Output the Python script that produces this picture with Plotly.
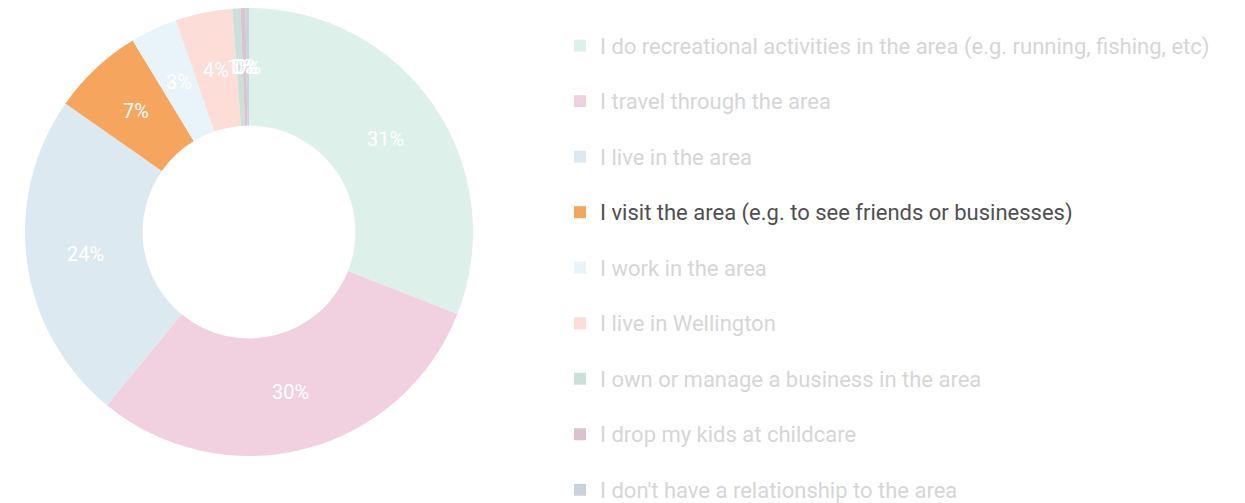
import math
import plotly.graph_objects as go

# ---- data ----
labels = [
    "I do recreational activities in the area (e.g. running, fishing, etc)",
    "I travel through the area",
    "I live in the area",
    "I visit the area (e.g. to see friends or businesses)",
    "I work in the area",
    "I live in Wellington",
    "I own or manage a business in the area",
    "I drop my kids at childcare",
    "I don't have a relationship to the area",
]
values = [31.0, 30.0, 23.8, 6.6, 3.4, 4.1, 0.6, 0.35, 0.25]
colors = ["#DDF1EA", "#F1D1E0", "#DDE9F0", "#F6A55E", "#E8F4F9",
          "#FDDDD8", "#CBE0D8", "#D9C3CE", "#CBD3DA"]
highlight = "I visit the area (e.g. to see friends or businesses)"

FADED_TXT = "#D6D6D6"
DARK_TXT = "#4F4F4F"

# page body has an 8px margin: figure is sized so it fills the window exactly
W, H = 1237, 495
X0, X1 = 17, 465          # pie domain in px
Y0, Y1 = 0, 448
HOLE = 0.475

# legend labels styled (color per item, extra blank line for spacing)
disp = []
for i, lab in enumerate(labels):
    c = DARK_TXT if lab == highlight else FADED_TXT
    s = f"<span style='font-size:22px;color:{c}'>{lab}</span>"
    if i < len(labels) - 1:
        s += "<br>&nbsp;"
    disp.append(s)

fig = go.Figure(go.Pie(
    labels=disp,
    values=values,
    hole=HOLE,
    sort=False,
    direction="clockwise",
    rotation=0,
    marker=dict(colors=colors, line=dict(width=0)),
    textinfo="none",
    hoverinfo="skip",
    domain=dict(x=[X0 / W, X1 / W], y=[1 - Y1 / H, 1 - Y0 / H]),
))

# percentage labels at the middle radius of every slice (all horizontal, full size)
total = sum(values)
cx, cy = (X0 + X1) / 2, (Y0 + Y1) / 2
r_out = (X1 - X0) / 2
r_mid = r_out * (1 + HOLE) / 2
cum = 0.0
for v in values:
    theta = 2 * math.pi * (cum + v / 2) / total
    cum += v
    px = cx + r_mid * math.sin(theta)
    py = cy - r_mid * math.cos(theta)
    fig.add_annotation(
        x=px / W, y=1 - py / H, xref="paper", yref="paper",
        text=f"{round(100 * v / total)}%", showarrow=False,
        font=dict(color="white", size=20, family="Roboto"),
        xanchor="center", yanchor="middle",
    )

fig.update_layout(
    width=W,
    height=H,
    margin=dict(l=0, r=0, t=0, b=0, autoexpand=False),
    paper_bgcolor="white",
    plot_bgcolor="white",
    font=dict(family="Roboto", color=FADED_TXT),
    showlegend=True,
    legend=dict(
        x=552 / W, xanchor="left",
        y=1 - 18 / H, yanchor="top",
        font=dict(size=20.2, family="Roboto", color=FADED_TXT),
        valign="top",
        bgcolor="rgba(0,0,0,0)",
        maxheight=2000,
    ),
)

fig.write_html("out.html")
